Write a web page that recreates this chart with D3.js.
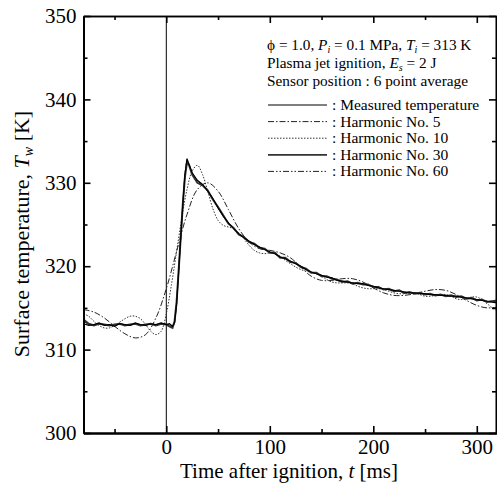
<!DOCTYPE html>
<html>
<head>
<meta charset="utf-8">
<script src="https://cdn.jsdelivr.net/npm/d3@7"></script>
<style>
  body { margin: 0; background: #fff; }
  svg { display: block; font-family: "Liberation Serif", "Times New Roman", serif; }
  .axis path, .axis line { stroke: #000; }
  .axis text { font-size: 21px; fill: #000; font-family: "Liberation Serif", serif; }
</style>
</head>
<body>
<svg id="chart" width="497" height="486"></svg>
<script>
// measured surface temperature (noisy)
const t_meas = [-80, -75, -70, -65, -60, -55, -50, -45, -40, -35, -30, -25, -20, -15, -10, -5, 0, 3, 6, 8,
  10, 12, 14, 16, 18, 20, 22, 25, 30, 35, 40, 45, 50, 55, 60, 65, 70, 75, 80, 85, 90, 95, 100,
  105, 110, 115, 120, 125, 130, 135, 140, 145, 150, 155, 160, 165, 170, 175, 180, 185, 190, 195, 200,
  205, 210, 215, 220, 225, 230, 235, 240, 245, 250, 255, 260, 265, 270, 275, 280, 285, 290, 295, 300,
  305, 310, 315, 320];
const T_meas = [313.1, 312.9, 313.0, 313.2, 312.9, 313.0, 312.8, 313.1, 313.0, 312.9, 313.2, 313.0, 312.9, 313.1, 313.0, 313.2, 313.0, 313.1, 312.8, 313.2,
  315.5, 319.5, 323.5, 327.5, 331.0, 332.9, 332.2, 331.2, 330.3, 329.8, 329.0, 328.1, 327.0, 326.0, 325.2, 324.5, 323.9, 323.4, 323.0, 322.6, 322.3, 322.0, 321.7,
  321.5, 321.1, 320.9, 320.6, 320.3, 320.0, 319.6, 319.3, 319.1, 318.9, 318.7, 318.6, 318.3, 318.2, 318.1, 318.0, 317.9, 317.9, 317.7, 317.6,
  317.4, 317.3, 317.2, 317.1, 317.0, 316.9, 316.8, 316.8, 316.7, 316.7, 316.6, 316.6, 316.5, 316.5, 316.4, 316.4, 316.3, 316.2, 316.1, 316.0,
  315.9, 315.8, 315.7, 315.6];

// harmonic No. 30 and 60 share the measured time points
const T_h30 = [313.6, 313.1, 312.9, 313.1, 313.0, 312.9, 313.0, 313.1, 312.9, 313.0, 313.1, 312.9, 313.0, 313.1, 312.9, 313.1, 313.0, 312.8, 312.6, 313.4,
  315.8, 319.6, 323.6, 327.5, 330.7, 332.5, 332.1, 331.0, 330.0, 329.7, 329.1, 328.0, 327.1, 326.1, 325.1, 324.6, 323.8, 323.5, 322.9, 322.7, 322.2, 322.1, 321.6,
  321.6, 321.0, 321.0, 320.5, 320.4, 319.9, 319.7, 319.2, 319.2, 318.8, 318.8, 318.5, 318.4, 318.1, 318.2, 317.9, 318.0, 317.8, 317.8, 317.5,
  317.5, 317.2, 317.3, 317.0, 317.1, 316.8, 316.9, 316.7, 316.8, 316.6, 316.7, 316.5, 316.6, 316.4, 316.5, 316.3, 316.4, 316.1, 316.2, 315.9,
  316.0, 315.7, 315.8, 315.9];
const T_h60 = [313.4, 313.0, 313.0, 313.1, 313.0, 313.0, 312.9, 313.1, 313.0, 312.9, 313.1, 313.0, 312.9, 313.1, 313.0, 313.1, 313.0, 313.0, 312.7, 313.3,
  315.6, 319.5, 323.5, 327.5, 330.9, 332.7, 332.2, 331.1, 330.2, 329.8, 329.0, 328.1, 327.0, 326.0, 325.2, 324.5, 323.9, 323.4, 323.0, 322.6, 322.3, 322.0, 321.7,
  321.5, 321.1, 320.9, 320.6, 320.3, 320.0, 319.6, 319.3, 319.1, 318.9, 318.7, 318.6, 318.3, 318.2, 318.1, 318.0, 317.9, 317.9, 317.7, 317.6,
  317.4, 317.3, 317.2, 317.1, 317.0, 316.9, 316.8, 316.8, 316.7, 316.7, 316.6, 316.6, 316.5, 316.5, 316.4, 316.4, 316.3, 316.2, 316.1, 316.0,
  315.9, 315.8, 315.8, 315.8];

// harmonic No. 5
const t_h5 = [-80, -70, -60, -50, -40, -30, -20, -10, 0, 10, 20, 30, 40, 50, 60, 70, 80, 90, 100,
  110, 120, 130, 140, 150, 160, 170, 180, 190, 200, 210, 220, 230, 240, 250, 260, 270, 280, 290, 300, 310, 320];
const T_h5 = [314.8, 314.5, 313.8, 312.8, 311.9, 311.4, 311.8, 313.8, 317.3, 321.8, 326.2, 329.2, 330.0, 329.0, 326.8, 324.5, 322.9, 322.1, 321.9,
  321.6, 321.0, 319.9, 318.8, 318.3, 318.3, 318.5, 318.5, 318.1, 317.4, 316.8, 316.5, 316.5, 316.7, 317.0, 317.2, 317.1, 316.6, 315.9, 315.3, 315.0, 315.1];

// harmonic No. 10
const t_h10 = [-80, -75, -70, -65, -60, -55, -50, -45, -40, -35, -30, -25, -20, -15, -10, -5, 0, 5, 10, 15, 20, 25, 30, 35, 40,
  45, 50, 55, 60, 65, 70, 75, 80, 85, 90, 95, 100, 105, 110, 115, 120, 125, 130, 135, 140, 145, 150, 155, 160,
  165, 170, 175, 180, 185, 190, 195, 200, 205, 210, 215, 220, 225, 230, 235, 240, 245, 250, 255, 260,
  265, 270, 275, 280, 285, 290, 295, 300, 305, 310, 315, 320];
const T_h10 = [314.3, 314.0, 313.4, 312.9, 312.6, 312.6, 312.9, 313.3, 313.7, 314.0, 314.0, 313.7, 313.0, 312.2, 311.8, 312.2, 314.3, 317.8, 321.8, 325.8, 329.2, 331.4, 332.1, 331.0, 329.0,
  326.9, 325.5, 324.9, 324.7, 324.5, 324.0, 323.3, 322.5, 321.9, 321.6, 321.5, 321.6, 321.5, 321.2, 320.7, 320.3, 319.9, 319.6, 319.4, 319.3, 319.1, 318.8, 318.4, 318.1,
  318.0, 318.0, 318.0, 317.9, 317.6, 317.4, 317.3, 317.3, 317.3, 317.2, 317.0, 316.8, 316.7, 316.7, 316.8, 316.8, 316.6, 316.4, 316.4, 316.5,
  316.6, 316.6, 316.4, 316.1, 316.0, 316.1, 316.3, 316.3, 316.0, 315.5, 315.0, 314.6];

const x_ticks = [0, 100, 200, 300];
const x_minor = [-50, 50, 150, 250];
const y_ticks = [300, 310, 320, 330, 340, 350];
const y_minor = [305, 315, 325, 335, 345];

const legend_labels = [': Measured temperature', ': Harmonic No. 5', ': Harmonic No. 10', ': Harmonic No. 30', ': Harmonic No. 60'];

const svg = d3.select('#chart');
const x = d3.scaleLinear().domain([-80, 320]).range([83.5, 497.5]);
const y = d3.scaleLinear().domain([300, 350]).range([433, 16]);

const zip = (ts, vs) => ts.map((t, i) => [t, vs[i]]);

const series = [
  { pts: zip(t_h5, T_h5), width: 1, dash: '6,2,1.5,2', color: '#222', curve: d3.curveCatmullRom },
  { pts: zip(t_h10, T_h10), width: 1, dash: '1.5,1.5', color: '#333', curve: d3.curveCatmullRom },
  { pts: zip(t_meas, T_h60), width: 1, dash: '6,2,1.5,2,1.5,2', color: '#222', curve: d3.curveLinear },
  { pts: zip(t_meas, T_h30), width: 2, dash: null, color: '#333', curve: d3.curveLinear },
  { pts: zip(t_meas, T_meas), width: 1.2, dash: null, color: '#000', curve: d3.curveLinear },
];

// vertical line at ignition
svg.append('line')
  .attr('x1', x(0)).attr('x2', x(0))
  .attr('y1', y(350)).attr('y2', y(300))
  .attr('stroke', '#000').attr('stroke-width', 1);

series.forEach(s => {
  svg.append('path')
    .datum(s.pts)
    .attr('fill', 'none')
    .attr('stroke', s.color)
    .attr('stroke-width', s.width)
    .attr('stroke-dasharray', s.dash)
    .attr('d', d3.line().x(d => x(d[0])).y(d => y(d[1])).curve(s.curve));
});

// axes, ticks pointing inward
const add_axis = function (axis, tx, ty, width) {
  const g = svg.append('g').attr('class', 'axis')
    .attr('transform', `translate(${tx},${ty})`)
    .call(axis);
  g.select('.domain').attr('stroke-width', width);
  g.selectAll('.tick line').attr('stroke-width', 1.6);
  return g;
};

add_axis(d3.axisBottom(x).tickValues(x_ticks).tickSize(-7).tickSizeOuter(0).tickPadding(6), 0, 433, 2);
add_axis(d3.axisBottom(x).tickValues(x_minor).tickSize(-4).tickSizeOuter(0).tickFormat(''), 0, 433, 2);
add_axis(d3.axisTop(x).tickValues(x_ticks).tickSize(-7).tickSizeOuter(0).tickFormat(''), 0, 16, 1.6);
add_axis(d3.axisTop(x).tickValues(x_minor).tickSize(-4).tickSizeOuter(0).tickFormat(''), 0, 16, 1.6);
add_axis(d3.axisLeft(y).tickValues(y_ticks).tickSize(-7).tickSizeOuter(0).tickPadding(7), 83.5, 0, 2);
add_axis(d3.axisLeft(y).tickValues(y_minor).tickSize(-4).tickSizeOuter(0).tickFormat(''), 83.5, 0, 2);
add_axis(d3.axisRight(y).tickValues(y_ticks).tickSize(-7).tickSizeOuter(0).tickFormat(''), 496, 0, 1.6);
add_axis(d3.axisRight(y).tickValues(y_minor).tickSize(-4).tickSizeOuter(0).tickFormat(''), 496, 0, 1.6);

// axis titles
const xt = svg.append('text')
  .attr('x', 289).attr('y', 478)
  .attr('text-anchor', 'middle')
  .attr('font-size', 21);
xt.append('tspan').text('Time after ignition, ');
xt.append('tspan').attr('font-style', 'italic').text('t');
xt.append('tspan').text(' [ms]');

const yt = svg.append('text')
  .attr('transform', 'translate(29,234) rotate(-90)')
  .attr('text-anchor', 'middle')
  .attr('font-size', 22);
yt.append('tspan').text('Surface temperature, ');
yt.append('tspan').attr('font-style', 'italic').text('T');
yt.append('tspan').attr('font-style', 'italic').attr('font-size', 14).attr('dy', 4).text('w');
yt.append('tspan').attr('dy', -4).text(' [K]');

// conditions text
const info = svg.append('g').attr('font-size', 15.3);
const l1 = info.append('text').attr('x', 267).attr('y', 50);
l1.append('tspan').text('\u03d5 = 1.0, ');
l1.append('tspan').attr('font-style', 'italic').text('P');
l1.append('tspan').attr('font-style', 'italic').attr('font-size', 10).attr('dy', 3).text('i');
l1.append('tspan').attr('dy', -3).text(' = 0.1 MPa, ');
l1.append('tspan').attr('font-style', 'italic').text('T');
l1.append('tspan').attr('font-style', 'italic').attr('font-size', 10).attr('dy', 3).text('i');
l1.append('tspan').attr('dy', -3).text(' = 313 K');

const l2 = info.append('text').attr('x', 267).attr('y', 67.5);
l2.append('tspan').text('Plasma jet ignition, ');
l2.append('tspan').attr('font-style', 'italic').text('E');
l2.append('tspan').attr('font-style', 'italic').attr('font-size', 10).attr('dy', 3).text('s');
l2.append('tspan').attr('dy', -3).text(' = 2 J');

info.append('text').attr('x', 267).attr('y', 86).text('Sensor position : 6 point average');

// legend, same order as the series styles
const legend_style = [series[4], series[0], series[1], series[3], series[2]];
const leg = svg.append('g');
legend_labels.forEach((lab, i) => {
  const ly = 105 + i * 16.6;
  const s = legend_style[i];
  leg.append('line')
    .attr('x1', 268).attr('x2', 327)
    .attr('y1', ly).attr('y2', ly)
    .attr('stroke', s.color)
    .attr('stroke-width', s.width === 2 ? 1.8 : 1)
    .attr('stroke-dasharray', s.dash);
  leg.append('text')
    .attr('x', 332).attr('y', ly + 5)
    .attr('font-size', 15.5)
    .text(lab);
});
</script>
</body>
</html>
